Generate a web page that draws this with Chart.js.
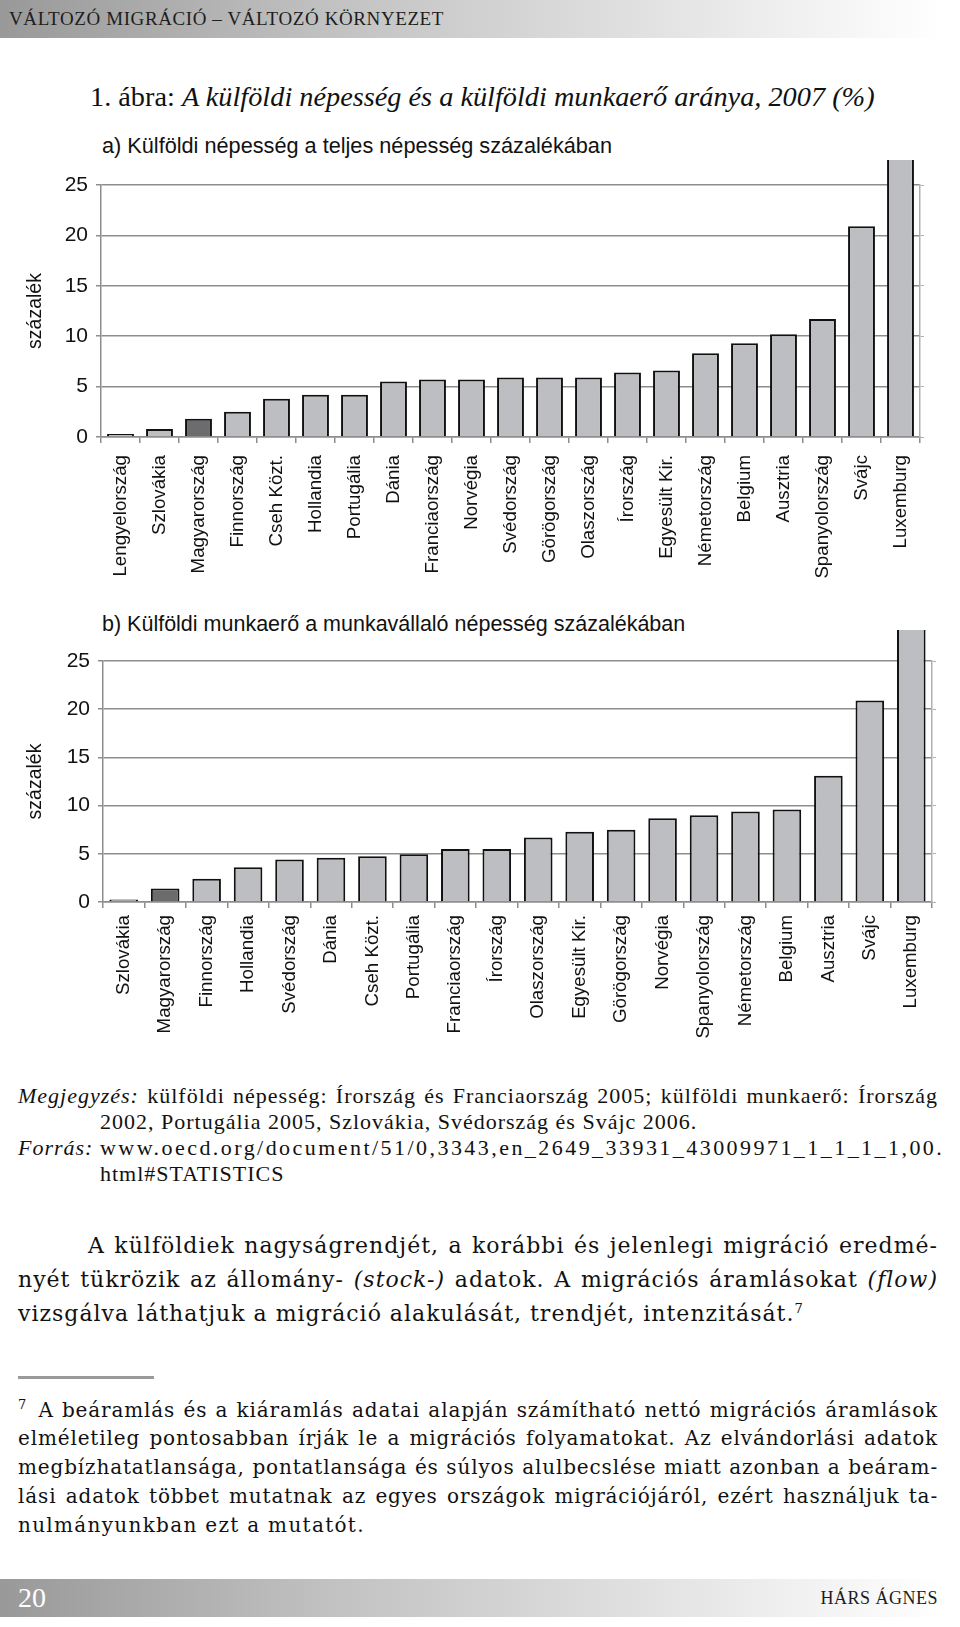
<!DOCTYPE html>
<html lang="hu">
<head>
<meta charset="utf-8">
<script src="https://cdn.jsdelivr.net/npm/chart.js@4.4.1/dist/chart.umd.min.js"></script>
<style>
  html, body { margin: 0; padding: 0; background: #fff; }
  body { width: 960px; height: 1627px; position: relative; overflow: hidden; color: #111; }
  .abs { position: absolute; white-space: nowrap; }
  .band { position: absolute; left: 0; width: 960px; height: 38px;
          background: linear-gradient(to right, #999999 0%, #c2c2c2 35%, #e4e4e4 70%, #ffffff 98%); }
  .serif { font-family: "Liberation Serif", serif; }
  .wide { font-family: "DejaVu Serif", serif; }
  .sans { font-family: "Liberation Sans", Arial, sans-serif; }
  .just { text-align: justify; text-align-last: justify; }
  .note { font-size: 22px; letter-spacing: 1px; }
  .para { font-size: 22px; letter-spacing: 1px; }
  .foot { font-size: 20px; letter-spacing: 0.85px; }
  canvas { position: absolute; left: 0; }
</style>
</head>
<body>
<div class="band" style="top:0"></div>
<div class="abs serif" style="left:9px; top:8px; font-size:19px; letter-spacing:0.6px; color:#1d1d1d;">VÁLTOZÓ MIGRÁCIÓ – VÁLTOZÓ KÖRNYEZET</div>

<div class="abs serif" style="left:90px; top:81px; font-size:28.3px;">1. ábra: <i>A külföldi népesség és a külföldi munkaerő aránya, 2007 (%)</i></div>

<div class="abs sans" style="left:102px; top:133px; font-size:21.7px;">a) Külföldi népesség a teljes népesség százalékában</div>
<canvas id="chartA" width="960" height="430" style="top:160px"></canvas>

<div class="abs sans" style="left:102px; top:612px; font-size:21.5px;">b) Külföldi munkaerő a munkavállaló népesség százalékában</div>
<canvas id="chartB" width="960" height="420" style="top:630px"></canvas>

<div class="abs serif just note" style="left:18px; top:1083px; width:920px;"><i>Megjegyzés:</i> külföldi népesség: Írország és Franciaország 2005; külföldi munkaerő: Írország</div>
<div class="abs serif note" style="left:100px; top:1109px;">2002, Portugália 2005, Szlovákia, Svédország és Svájc 2006.</div>
<div class="abs serif note" style="left:18px; top:1135px;"><i style="display:inline-block; width:82px;">Forrás:</i><span style="letter-spacing:2.45px">www.oecd.org/document/51/0,3343,en_2649_33931_43009971_1_1_1_1,00.</span></div>
<div class="abs serif note" style="left:100px; top:1161px;">html#STATISTICS</div>

<div class="abs wide just para" style="left:88px; top:1233px; width:850px;">A külföldiek nagyságrendjét, a korábbi és jelenlegi migráció eredmé-</div>
<div class="abs wide just para" style="left:18px; top:1267px; width:920px;">nyét tükrözik az állomány- <i>(stock-)</i> adatok. A migrációs áramlásokat <i>(flow)</i></div>
<div class="abs wide para" style="left:18px; top:1301px;">vizsgálva láthatjuk a migráció alakulását, trendjét, intenzitását.<sup style="font-size:13px">7</sup></div>

<div class="abs" style="left:18px; top:1376px; width:136px; height:3px; background:#9a9a9a;"></div>
<div class="abs wide just foot" style="left:18px; top:1397px; width:920px;"><sup style="font-size:13px; margin-right:3px">7</sup> A beáramlás és a kiáramlás adatai alapján számítható nettó migrációs áramlások</div>
<div class="abs wide just foot" style="left:18px; top:1426px; width:920px;">elméletileg pontosabban írják le a migrációs folyamatokat. Az elvándorlási adatok</div>
<div class="abs wide just foot" style="left:18px; top:1455px; width:920px;">megbízhatatlansága, pontatlansága és súlyos alulbecslése miatt azonban a beáram-</div>
<div class="abs wide just foot" style="left:18px; top:1484px; width:920px;">lási adatok többet mutatnak az egyes országok migrációjáról, ezért használjuk ta-</div>
<div class="abs wide foot" style="left:18px; top:1513px; letter-spacing:1.3px;">nulmányunkban ezt a mutatót.</div>

<div class="band" style="top:1579px"></div>
<div class="abs serif" style="left:18px; top:1582px; font-size:28px; color:#fff;">20</div>
<div class="abs serif" style="right:22px; top:1588px; font-size:18px; letter-spacing:0.5px; color:#1d1d1d;">HÁRS ÁGNES</div>

<script>
// panel a: foreign population, % of total population
const countriesA = ['Lengyelország', 'Szlovákia', 'Magyarország', 'Finnország', 'Cseh Közt.', 'Hollandia',
  'Portugália', 'Dánia', 'Franciaország', 'Norvégia', 'Svédország', 'Görögország', 'Olaszország',
  'Írország', 'Egyesült Kir.', 'Németország', 'Belgium', 'Ausztria', 'Spanyolország', 'Svájc', 'Luxemburg'];
const valuesA = [0.3, 0.8, 1.8, 2.5, 3.8, 4.2, 4.2, 5.5, 5.7, 5.7, 5.9, 5.9, 5.9, 6.4, 6.6, 8.3, 9.3, 10.2, 11.7, 20.9, 41.6];

// panel b: foreign labour force, % of labour force
const countriesB = ['Szlovákia', 'Magyarország', 'Finnország', 'Hollandia', 'Svédország', 'Dánia', 'Cseh Közt.',
  'Portugália', 'Franciaország', 'Írország', 'Olaszország', 'Egyesült Kir.', 'Görögország', 'Norvégia',
  'Spanyolország', 'Németország', 'Belgium', 'Ausztria', 'Svájc', 'Luxemburg'];
const valuesB = [0.25, 1.4, 2.4, 3.6, 4.4, 4.6, 4.75, 4.95, 5.5, 5.5, 6.7, 7.3, 7.5, 8.7, 9.0, 9.4, 9.6, 13.1, 20.9, 45.2];

const yTicks = [0, 5, 10, 15, 20, 25];
const HIGHLIGHT = 'Magyarország';

const BAR_COLOR = '#bdbec1';
const HIGHLIGHT_COLOR = '#6c6c6e';
const GRID = '#8d8d8d';
const SANS = '"Liberation Sans", Arial, sans-serif';

function drawPanel(id, labels, values, box) {
  new Chart(document.getElementById(id), {
    type: 'bar',
    data: {
      labels: labels,
      datasets: [{
        data: values,
        backgroundColor: labels.map(l => l === HIGHLIGHT ? HIGHLIGHT_COLOR : BAR_COLOR),
        borderColor: '#111',
        borderWidth: 2,
        barPercentage: 0.69,
        categoryPercentage: 1.0,
        clip: { left: 0, top: box.overflow, right: 0, bottom: 0 }
      }]
    },
    options: {
      responsive: false,
      animation: false,
      devicePixelRatio: 1,
      layout: { padding: { top: box.top, right: 0, bottom: 0, left: 0 } },
      plugins: { legend: { display: false }, tooltip: { enabled: false } },
      scales: {
        x: {
          grid: { offset: true, drawOnChartArea: false, drawTicks: true, tickLength: 6, color: GRID, lineWidth: 1.5 },
          border: { color: GRID, width: 1.5 },
          ticks: { autoSkip: false, maxRotation: 90, minRotation: 90, padding: box.labelGap, color: '#111',
                   font: { family: SANS, size: 18.7 } },
          afterFit: s => { s.height = box.xHeight; }
        },
        y: {
          min: yTicks[0], max: yTicks[yTicks.length - 1],
          afterBuildTicks: s => { s.ticks = yTicks.map(v => ({ value: v })); },
          grid: { color: GRID, lineWidth: 1.5, tickLength: 5 },
          border: { color: GRID, width: 1.5 },
          ticks: { padding: 8, color: '#111', font: { family: SANS, size: 21 } },
          title: { display: true, text: 'százalék', color: '#111', font: { family: SANS, size: 19.5 },
                   padding: { top: 24, bottom: 0 } },
          afterFit: s => { s.width = box.left; }
        },
        y2: {
          position: 'right',
          min: yTicks[0], max: yTicks[yTicks.length - 1],
          afterBuildTicks: s => { s.ticks = yTicks.map(v => ({ value: v })); },
          grid: { drawOnChartArea: false, tickLength: 4, color: '#b0b0b0' },
          border: { color: '#b0b0b0', width: 1.5 },
          ticks: { display: false },
          afterFit: s => { s.width = 960 - box.right; }
        }
      }
    }
  });
}

drawPanel('chartA', countriesA, valuesA, { top: 25, overflow: 35, left: 101, right: 920, xHeight: 153, labelGap: 12 });
drawPanel('chartB', countriesB, valuesB, { top: 31, overflow: 39, left: 103, right: 932, xHeight: 148, labelGap: 7 });
</script>
</body>
</html>
